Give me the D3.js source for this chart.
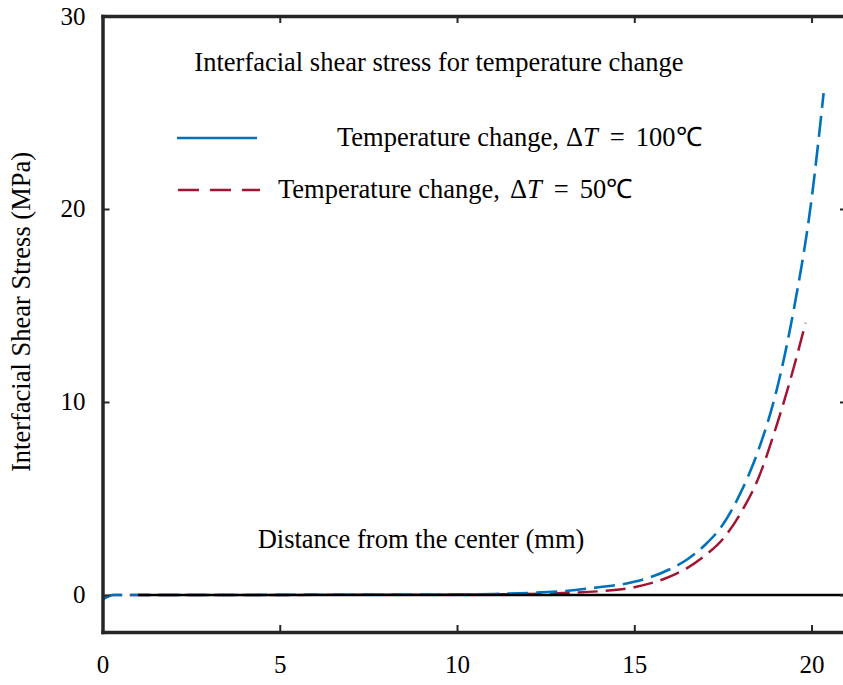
<!DOCTYPE html>
<html>
<head>
<meta charset="utf-8">
<script src="https://cdn.jsdelivr.net/npm/d3@7"></script>
<style>
  body { margin: 0; background: #fff; }
</style>
</head>
<body>
<div id="chart"></div>
<script>
// distance from the center (mm) and shear stress (MPa)
var distHigh   = [0, 0.3, 1, 2, 4, 6, 8, 10, 11, 12, 13, 14, 15, 16, 16.5, 17, 17.5, 18, 18.5, 19, 19.5, 20, 20.34];
var stressHigh = [-0.25, 0, 0, 0, 0, 0.01, 0.02, 0.03, 0.05, 0.1, 0.2, 0.4, 0.68, 1.33, 1.85, 2.6, 3.65, 5.3, 7.5, 10.5, 14.8, 20.5, 26.0];
var distLow    = [0, 0.3, 1, 2, 4, 6, 8, 10, 11, 12, 13, 14, 15, 16, 16.5, 17, 17.5, 18, 18.5, 19, 19.5, 19.83];
var stressLow  = [-0.2, 0, 0, 0, 0, 0.005, 0.01, 0.02, 0.03, 0.05, 0.1, 0.19, 0.4, 0.95, 1.4, 2.05, 2.9, 4.24, 6.05, 8.7, 11.8, 14.1];
var xTicks = [0, 5, 10, 15, 20];
var yTicks = [0, 10, 20, 30];
var titleText = "Interfacial shear stress for temperature change";
var xLabel = "Distance from the center (mm)";
var yLabel = "Interfacial Shear Stress (MPa)";
var legendNames = ["Temperature change,", "Temperature change,"];
var legendDeltas = ["100\u2103", "50\u2103"];

var W = 843, H = 685;
var serif = "Liberation Serif";
var axisColor = "#262626";
var blue = "#0072bd", red = "#a2142f";

var svg = d3.select("#chart").append("svg")
    .attr("width", W)
    .attr("height", H)
    .attr("font-family", serif);

var x = d3.scaleLinear().domain([0, 21]).range([102.5, 847]);
var y = d3.scaleLinear().domain([-1.92, 30]).range([632, 16]);

// curves
var line = d3.line()
    .x(function(d) { return x(d[0]); })
    .y(function(d) { return y(d[1]); })
    .curve(d3.curveMonotoneX);

var high = d3.zip(distHigh, stressHigh);
var low = d3.zip(distLow, stressLow);

svg.append("path")
    .datum(low)
    .attr("d", line)
    .attr("fill", "none")
    .attr("stroke", red)
    .attr("stroke-width", 2.5)
    .attr("stroke-dasharray", "20,8");

svg.append("path")
    .datum(high)
    .attr("d", line)
    .attr("fill", "none")
    .attr("stroke", blue)
    .attr("stroke-width", 2.6)
    .attr("stroke-dasharray", "21,8");

// zero line, drawn over the flat part of the curves
svg.append("line")
    .attr("x1", x(1)).attr("x2", x(21))
    .attr("y1", y(0)).attr("y2", y(0))
    .attr("stroke", "#000")
    .attr("stroke-width", 2.5);

// axes (box with inward ticks)
function styleAxis(g) {
  g.attr("font-family", serif).attr("font-size", 25);
  g.select(".domain").attr("fill", "none").attr("stroke", axisColor).attr("stroke-width", 3.5).attr("stroke-linecap", "square");
  g.selectAll(".tick line").attr("stroke", axisColor).attr("stroke-width", 2);
  g.selectAll(".tick text").attr("fill", "#000").attr("font-family", serif);
}

svg.append("g")
    .attr("transform", "translate(0," + y(-1.92) + ")")
    .call(d3.axisBottom(x).tickValues(xTicks).tickSize(-7).tickSizeOuter(0).tickPadding(23))
    .call(styleAxis);

svg.append("g")
    .attr("transform", "translate(0," + y(30) + ")")
    .call(d3.axisTop(x).tickValues(xTicks).tickSize(-7).tickSizeOuter(0).tickFormat(""))
    .call(styleAxis);

svg.append("g")
    .attr("transform", "translate(" + x(0) + ",0)")
    .call(d3.axisLeft(y).tickValues(yTicks).tickSize(-7).tickSizeOuter(0).tickPadding(17))
    .call(styleAxis);

svg.append("g")
    .attr("transform", "translate(" + x(21) + ",0)")
    .call(d3.axisRight(y).tickValues(yTicks).tickSize(-7).tickSizeOuter(0).tickFormat(""))
    .call(styleAxis);

// labels
svg.append("text")
    .attr("x", 439).attr("y", 71)
    .attr("text-anchor", "middle")
    .attr("font-size", 26.5)
    .text(titleText);

svg.append("text")
    .attr("x", 421).attr("y", 548)
    .attr("text-anchor", "middle")
    .attr("font-size", 26.5)
    .text(xLabel);

svg.append("text")
    .attr("transform", "translate(30,312) rotate(-90)")
    .attr("text-anchor", "middle")
    .attr("font-family", serif)
    .attr("font-size", 26.5)
    .text(yLabel);

// legend
svg.append("line")
    .attr("x1", 177).attr("x2", 257)
    .attr("y1", 138).attr("y2", 138)
    .attr("stroke", blue).attr("stroke-width", 2.5);

svg.append("line")
    .attr("x1", 178).attr("x2", 260)
    .attr("y1", 190).attr("y2", 190)
    .attr("stroke", red).attr("stroke-width", 2.5)
    .attr("stroke-dasharray", "21,11");

var legendX = [337, 278];
var deltaX = [566, 510];
var legendY = [146, 198];

legendNames.forEach(function(name, i) {
  svg.append("text")
      .attr("x", legendX[i]).attr("y", legendY[i])
      .attr("font-size", 26.5)
      .text(name);
  var t = svg.append("text")
      .attr("x", deltaX[i]).attr("y", legendY[i])
      .attr("font-size", 26.5);
  t.append("tspan").text("\u0394");
  t.append("tspan").attr("font-style", "italic").text("T");
  t.append("tspan").attr("dx", 12).text("=");
  t.append("tspan").attr("dx", 11).text(legendDeltas[i]);
});
</script>
</body>
</html>
